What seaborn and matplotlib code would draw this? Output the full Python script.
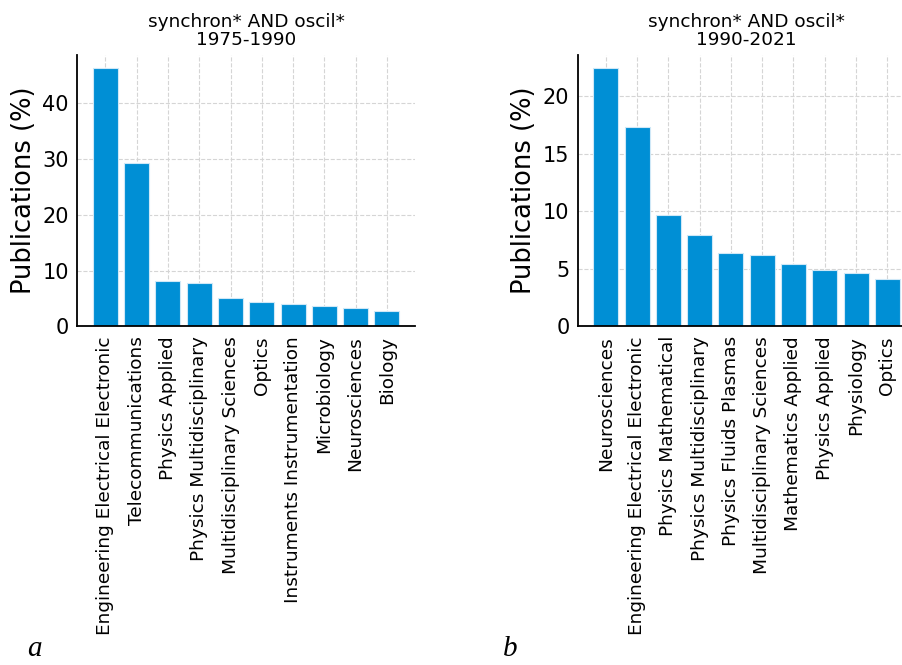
import matplotlib
matplotlib.use('Agg')
import matplotlib.pyplot as plt
import seaborn as sns

# データ
cats_a = ['Engineering Electrical Electronic', 'Telecommunications', 'Physics Applied',
          'Physics Multidisciplinary', 'Multidisciplinary Sciences', 'Optics',
          'Instruments Instrumentation', 'Microbiology', 'Neurosciences', 'Biology']
vals_a = [46.3, 29.3, 8.15, 7.85, 5.1, 4.4, 4.0, 3.7, 3.35, 2.7]

cats_b = ['Neurosciences', 'Engineering Electrical Electronic', 'Physics Mathematical',
          'Physics Multidisciplinary', 'Physics Fluids Plasmas', 'Multidisciplinary Sciences',
          'Mathematics Applied', 'Physics Applied', 'Physiology', 'Optics']
vals_b = [22.44, 17.3, 9.67, 7.93, 6.36, 6.21, 5.43, 4.9, 4.62, 4.12]

titles = ['synchron* AND oscil*\n1975-1990', 'synchron* AND oscil*\n1990-2021']
panel_labels = ['a', 'b']

sns.set_style('white')
plt.rcParams['font.family'] = ['DejaVu Sans']
# 文字色は黒
plt.rcParams['text.color'] = 'black'
plt.rcParams['axes.labelcolor'] = 'black'
plt.rcParams['xtick.color'] = 'black'
plt.rcParams['ytick.color'] = 'black'

fig = plt.figure(figsize=(9.02, 6.65), dpi=100)
ax_a = fig.add_axes([0.0857, 0.5093, 0.3744, 0.408])
ax_b = fig.add_axes([0.6405, 0.5093, 0.3744, 0.408])

for ax, cats, vals, title in [(ax_a, cats_a, vals_a, titles[0]),
                              (ax_b, cats_b, vals_b, titles[1])]:
    sns.barplot(x=cats, y=vals, ax=ax, color='#008fd5', saturation=1,
                width=0.8, edgecolor='#cfe8f7', linewidth=0.8, zorder=2)
    ax.set_xlim(-0.9, len(cats) - 0.1)
    ax.set_ylim(0, max(vals) * 1.05)
    # グリッド(破線)
    ax.grid(True, linestyle='--', color='#d5d5d5', linewidth=0.8, zorder=0)
    ax.set_axisbelow(True)
    for s in ['top', 'right']:
        ax.spines[s].set_visible(False)
    for s in ['left', 'bottom']:
        ax.spines[s].set_color('black')
        ax.spines[s].set_linewidth(1.3)
    ax.tick_params(axis='both', length=0, colors='black')
    ax.tick_params(axis='y', labelsize=15, pad=6)
    ax.tick_params(axis='x', labelsize=13.3, pad=7, labelrotation=90)
    ax.set_ylabel('Publications (%)', fontsize=18.5, labelpad=4, color='black')
    ax.set_title(title, fontsize=13.3, pad=7, linespacing=1.0, color='black')

# パネルラベル
fig.text(0.030, 0.013, panel_labels[0], fontsize=21, style='italic',
         family='Liberation Serif', ha='left', va='baseline', color='black')
fig.text(0.558, 0.013, panel_labels[1], fontsize=21, style='italic',
         family='Liberation Serif', ha='left', va='baseline', color='black')

plt.savefig('out.png', dpi=100)
